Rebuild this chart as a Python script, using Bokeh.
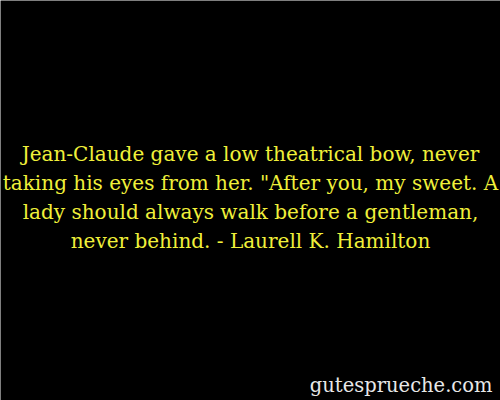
from bokeh.plotting import figure
from bokeh.models import Range1d
from bokeh.core.properties import value
from bokeh.embed import file_html
from bokeh.resources import INLINE

quote_lines = [
    "Jean-Claude gave a low theatrical bow, never",
    "taking his eyes from her. \"After you, my sweet. A",
    "lady should always walk before a gentleman,",
    "never behind. - Laurell K. Hamilton",
]
watermark = "gutesprueche.com"

W, H = 500, 400
p = figure(width=W, height=H, output_backend="svg", toolbar_location=None,
           x_range=Range1d(0, W), y_range=Range1d(H, 0), min_border=0)
p.axis.visible = False
p.grid.visible = False
p.outline_line_color = None
p.background_fill_color = "black"
p.border_fill_color = "black"

first_baseline = 153
spacing = 29
xs = [W / 2] * len(quote_lines)
ys = [first_baseline + i * spacing for i in range(len(quote_lines))]
p.text(xs, ys, text=quote_lines, text_color="#f0f03a",
       text_font=value("DejaVu Serif"), text_font_size="20px",
       text_align="center", text_baseline="alphabetic")

p.text([492], [385], text=[watermark], text_color="#e8e8e8",
       text_font=value("DejaVu Serif"), text_font_size="19.5px",
       text_align="right", text_baseline="alphabetic")

open("out.html", "w").write(file_html(p, INLINE))
